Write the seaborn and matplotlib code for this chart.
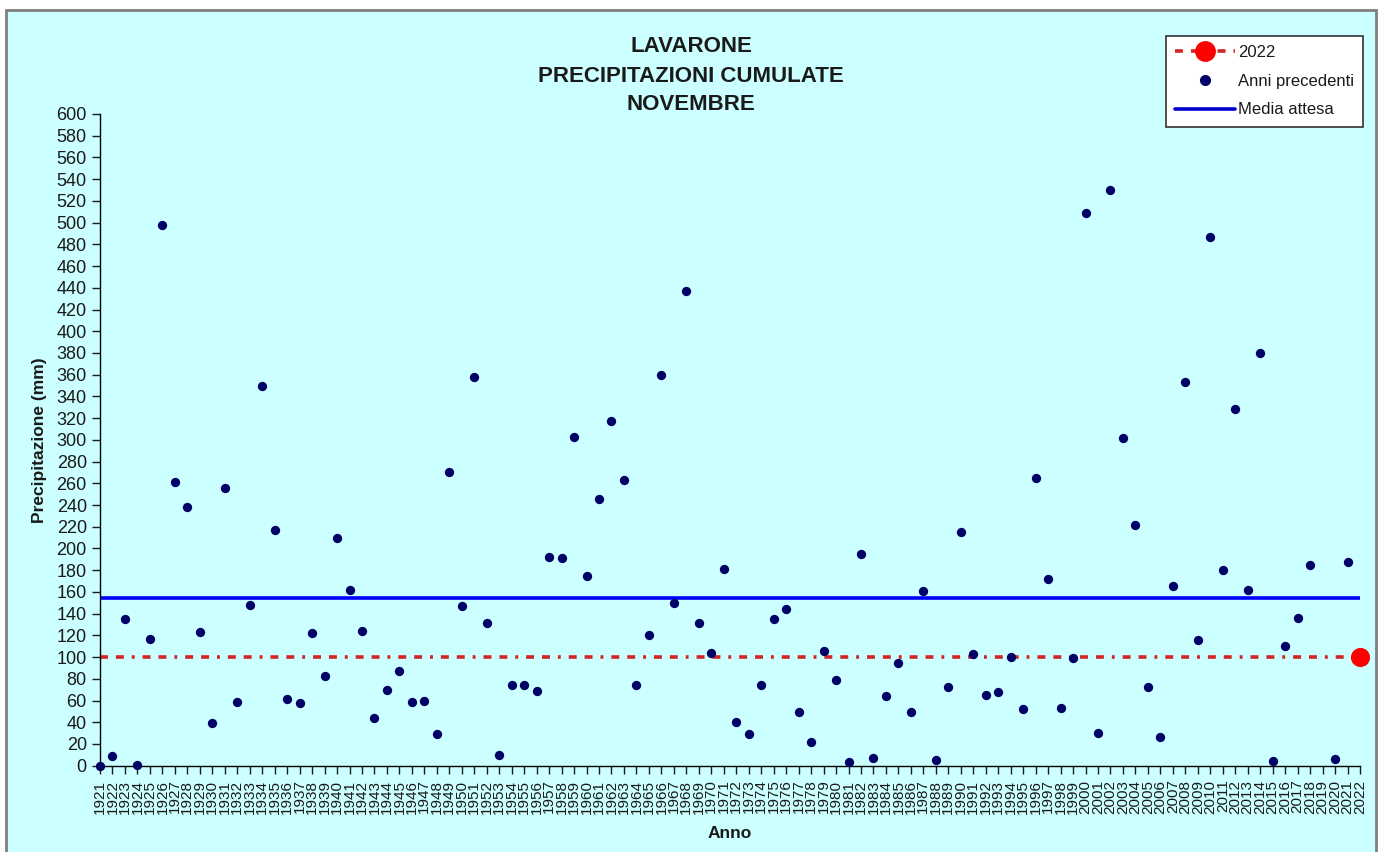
import numpy as np
import pandas as pd
import matplotlib
matplotlib.use("Agg")
import matplotlib.pyplot as plt
from matplotlib.lines import Line2D
from matplotlib.patches import Rectangle
import seaborn as sns

# dati: precipitazioni cumulate di novembre a Lavarone (mm)
anni = list(range(1921, 2022))
precipitazioni = [
    0, 9, 135, 1, 117, 498, 261, 238, 123, 39,          # 1921-1930
    256, 59, 148, 350, 217, 61, 58, 122, 83, 210,       # 1931-1940
    162, 124, 44, 70, 87, 59, 60, 29, 270, 147,         # 1941-1950
    358, 131, 10, 74, 74, 69, 192, 191, 303, 175,       # 1951-1960
    246, 317, 263, 74, 120, 360, 150, 437, 131, 104,    # 1961-1970
    181, 40, 29, 74, 135, 144, 49, 22, 106, 79,         # 1971-1980
    3, 195, 7, 64, 95, 49, 161, 5, 72, 215,             # 1981-1990
    103, 65, 68, 100, 52, 265, 172, 53, 99, 509,        # 1991-2000
    30, 530, 302, 222, 72, 26, 165, 353, 116, 487,      # 2001-2010
    180, 328, 162, 380, 4, 110, 136, 185, np.nan, 6,    # 2011-2020
    188,                                                # 2021
]
anno_corrente = 2022
valore_corrente = 100
media_attesa = 154

df = pd.DataFrame({'anno': anni, 'precipitazione': precipitazioni})
anni_tutti = anni + [anno_corrente]
linee = pd.DataFrame({'anno': anni_tutti,
                      'media': [media_attesa] * len(anni_tutti),
                      'corrente': [valore_corrente] * len(anni_tutti)})

sfondo = '#CCFFFF'
testo = '#1a1a1a'
rosso_linea = '#D42424'
tratteggio = (0, (2.2, 2.2, 2.2, 2.2, 0.8, 2.2))

sns.set_style('white')
plt.rcParams['font.family'] = ['Liberation Sans', 'DejaVu Sans']

fig = plt.figure(figsize=(13.83, 8.52), dpi=100, facecolor='white')
fig.patches.append(Rectangle((6, -5), 1370, 847, transform=None, facecolor=sfondo,
                             edgecolor='#7f7f7f', linewidth=2, zorder=-10))
ax = fig.add_axes([100 / 1383, 1 - 765.7 / 852, 1260 / 1383, (765.7 - 114) / 852])
ax.set_facecolor('none')

# linea del 2022 e media attesa
sns.lineplot(x='anno', y='corrente', data=linee, ax=ax, color=rosso_linea,
             linewidth=2.6, linestyle=tratteggio, zorder=2)
sns.lineplot(x='anno', y='media', data=linee, ax=ax, color='#0000FF',
             linewidth=2.6, zorder=2)
# anni precedenti
sns.scatterplot(x='anno', y='precipitazione', data=df, ax=ax, color='#000066',
                s=45, marker='o', edgecolor='#000066', linewidth=0, zorder=3, clip_on=False)
# 2022
sns.scatterplot(x=[anno_corrente], y=[valore_corrente], ax=ax, color='#FF0000',
                s=190, edgecolor='#FF0000', linewidth=0, zorder=4, clip_on=False)

ax.set_xlim(1921, 2022)
ax.set_ylim(0, 600)
ax.set_yticks(range(0, 601, 20))
ax.set_xticks(anni_tutti)
ax.set_xticklabels([str(a) for a in anni_tutti], rotation=90, fontsize=11, color=testo)
ax.tick_params(axis='y', labelsize=13, colors=testo, direction='out', length=6, width=1, left=True)
ax.tick_params(axis='x', direction='out', length=6, width=1, bottom=True, pad=4, colors=testo)
for lab in ax.get_yticklabels():
    lab.set_color(testo)
sns.despine(ax=ax, top=True, right=True)
ax.spines['left'].set_color('black')
ax.spines['bottom'].set_color('black')
ax.spines['left'].set_linewidth(1)
ax.spines['bottom'].set_linewidth(1)

ax.set_xlabel('Anno', fontsize=12.5, fontweight='bold', color=testo, labelpad=9)
ax.set_ylabel('Precipitazione (mm)', fontsize=12.5, fontweight='bold', color=testo, labelpad=7)

fig.text(691 / 1383, 1 - 76 / 852, 'LAVARONE\nPRECIPITAZIONI CUMULATE\nNOVEMBRE',
         ha='center', va='center', fontsize=16, fontweight='bold', color=testo, linespacing=1.5)

maniglie = [
    Line2D([], [], color=rosso_linea, linewidth=2.6, linestyle=tratteggio,
           marker='o', markersize=14, markerfacecolor='#FF0000', markeredgecolor='#FF0000'),
    Line2D([], [], color='#000066', linestyle='none', marker='o', markersize=7),
    Line2D([], [], color='#0000CC', linewidth=2.6),
]
etichette = ['2022', 'Anni precedenti', 'Media attesa']
leg = fig.legend(maniglie, etichette, loc='upper right', bbox_to_anchor=(1363 / 1383, 1 - 36 / 852),
                 frameon=True, fancybox=False, fontsize=12, handlelength=3.6, handletextpad=0.15,
                 borderpad=0.55, labelspacing=0.82, borderaxespad=0)
leg.get_frame().set_edgecolor('#333333')
leg.get_frame().set_linewidth(1.2)
leg.get_frame().set_facecolor('white')
leg.get_frame().set_alpha(1)
for t in leg.get_texts():
    t.set_color(testo)

fig.savefig('out.png', dpi=100, facecolor='white')
